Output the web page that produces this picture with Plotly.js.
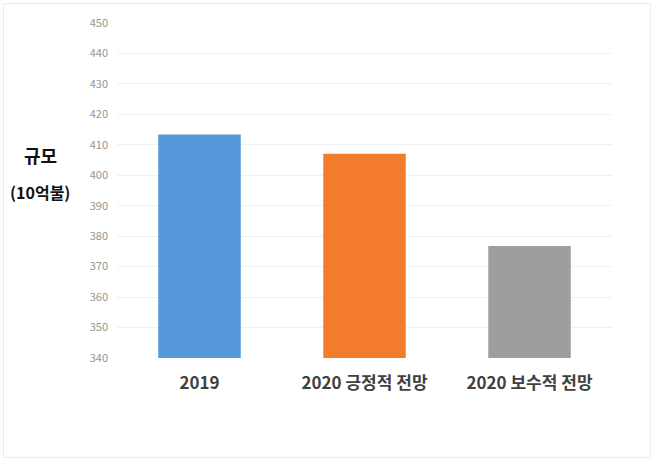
<!DOCTYPE html>
<html>
<head>
<meta charset="utf-8">
<script src="https://cdn.plot.ly/plotly-3.0.1.min.js"></script>
<style>
html,body{margin:0;padding:0;background:#fff;}
#wrap{position:relative;width:657px;height:462px;}
#chart{width:657px;height:462px;}
#frame{position:absolute;left:3px;top:3px;width:646px;height:453px;border:1px solid #ececec;pointer-events:none;}
</style>
</head>
<body>
<div id="wrap"><div id="chart"></div><div id="frame"></div></div>
<script>
const categories = ["2019", "2020 긍정적 전망", "2020 보수적 전망"];
const values = [413.4, 407.1, 376.8];
const barColors = ["#5599db", "#f27b2c", "#9e9e9e"];
const yTicks = [340, 350, 360, 370, 380, 390, 400, 410, 420, 430, 440, 450];
const axisFloor = 340;

const font = "'Noto Sans CJK KR', 'Noto Sans', sans-serif";

const data = [{
  type: "bar",
  x: categories,
  y: values.map(v => v - axisFloor),
  base: axisFloor,
  marker: {color: barColors, line: {width: 0}},
  hoverinfo: "none"
}];

const layout = {
  width: 657,
  height: 462,
  margin: {l: 117, r: 45, t: 23, b: 104},
  paper_bgcolor: "#ffffff",
  plot_bgcolor: "#ffffff",
  showlegend: false,
  bargap: 0.5,
  xaxis: {
    type: "category",
    showgrid: false,
    zeroline: false,
    showline: false,
    ticks: "",
    ticklabelstandoff: 13,
    tickfont: {family: font, size: 17, color: "#404040", weight: "bold"}
  },
  yaxis: {
    range: [340, 450],
    tickvals: yTicks,
    ticktext: yTicks.map(String),
    showgrid: true,
    gridcolor: "#f0f0f0",
    gridwidth: 1,
    zeroline: false,
    showline: false,
    ticks: "",
    ticklabelstandoff: 8,
    tickfont: {family: font, size: 11, color: "#959595"}
  },
  annotations: [
    {text: "<b>규모</b>", xref: "paper", yref: "paper", x: -0.155, y: 0.606, xanchor: "center", yanchor: "middle",
     showarrow: false, font: {family: font, size: 18, color: "#111111"}},
    {text: "<b>(10억불)</b>", xref: "paper", yref: "paper", x: -0.155, y: 0.497, xanchor: "center", yanchor: "middle",
     showarrow: false, font: {family: font, size: 16, color: "#111111"}}
  ]
};

Plotly.newPlot("chart", data, layout, {displayModeBar: false, staticPlot: true});
</script>
</body>
</html>
